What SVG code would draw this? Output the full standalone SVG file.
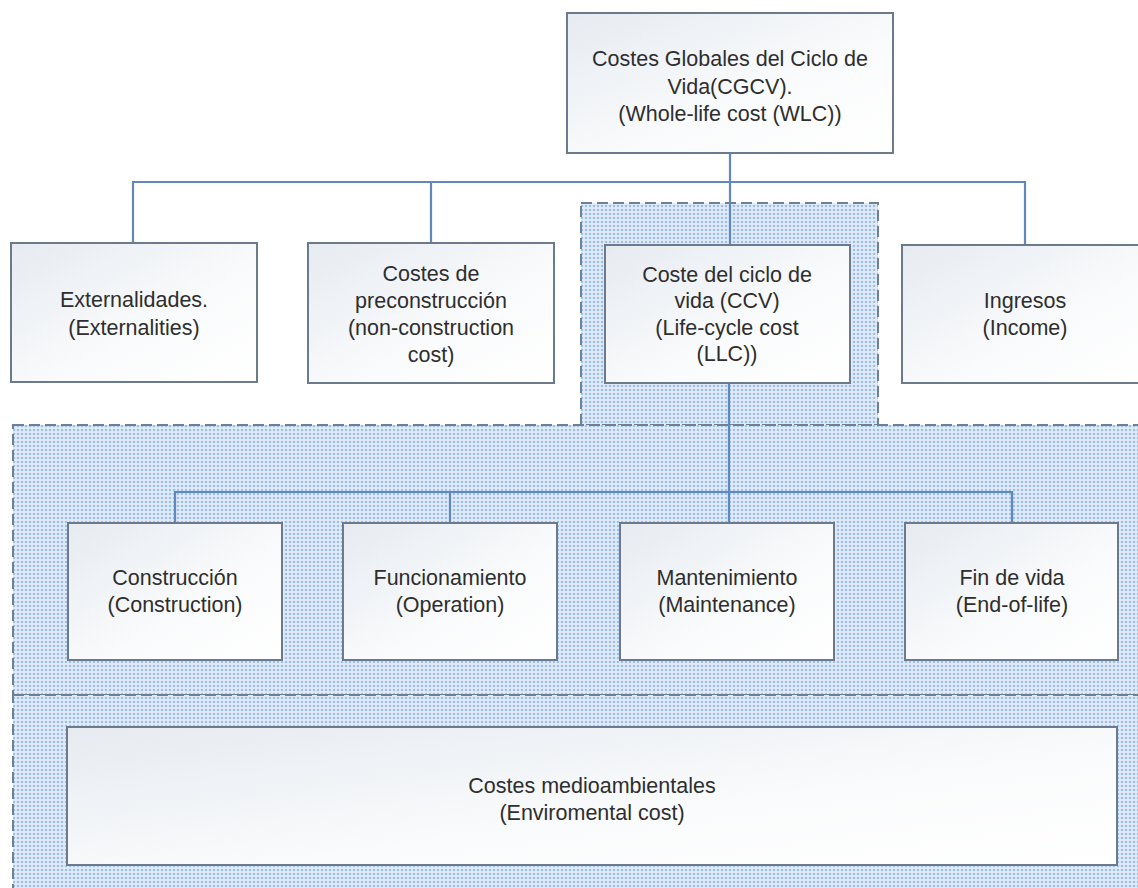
<svg xmlns="http://www.w3.org/2000/svg" width="1138" height="888" viewBox="0 0 1138 888">
<defs>
<pattern id="dots" width="4" height="4" patternUnits="userSpaceOnUse">
<rect width="4" height="4" fill="#e2ecf8"/>
<circle cx="2" cy="2" r="1.3" fill="#9fc0e4"/>
</pattern>
<linearGradient id="boxg" x1="0" y1="0" x2="1" y2="1">
<stop offset="0" stop-color="#e6ebf1"/>
<stop offset="0.6" stop-color="#fafbfc"/>
<stop offset="1" stop-color="#ffffff"/>
</linearGradient>
</defs>
<style>
.region{fill:url(#dots);stroke:#6e8194;stroke-width:2;stroke-dasharray:11 5;}
.box{fill:url(#boxg);stroke:#6b7a8c;stroke-width:2;}
.conn{fill:none;stroke:#6088bb;stroke-width:2.2;}
.t{font-family:"Liberation Sans",Arial,sans-serif;font-size:21.5px;fill:#2e2e2e;text-anchor:middle;}
</style>
<rect width="1138" height="888" fill="#ffffff"/>
<g id="regions">
<rect class="region" x="581" y="203" width="297" height="222"/>
<rect class="region" x="13" y="425" width="1140" height="270"/>
<rect class="region" x="13" y="695" width="1140" height="200"/>
</g>
<g id="connectors">
<path class="conn" d="M730 153 V245"/>
<path class="conn" d="M133 243 V182 H1025 V245"/>
<path class="conn" d="M431 182 V243"/>
<path class="conn" d="M729 383 V523"/>
<path class="conn" d="M175 523 V492 H1012 V523"/>
<path class="conn" d="M450 492 V523"/>
</g>
<g id="n-wlc">
<rect class="box" x="567" y="13" width="326" height="140"/>
<text class="t" x="730" y="66">Costes Globales del Ciclo de</text>
<text class="t" x="730" y="94">Vida(CGCV).</text>
<text class="t" x="730" y="121">(Whole-life cost (WLC))</text>
</g>
<g id="n-ext">
<rect class="box" x="11" y="243" width="246" height="139"/>
<text class="t" x="134" y="307">Externalidades.</text>
<text class="t" x="134" y="335">(Externalities)</text>
</g>
<g id="n-pre">
<rect class="box" x="308" y="243" width="246" height="140"/>
<text class="t" x="431" y="281">Costes de</text>
<text class="t" x="431" y="308">preconstrucción</text>
<text class="t" x="431" y="335">(non-construction</text>
<text class="t" x="431" y="362">cost)</text>
</g>
<g id="n-ccv">
<rect class="box" x="605" y="245" width="245" height="138"/>
<text class="t" x="727" y="282">Coste del ciclo de</text>
<text class="t" x="727" y="308">vida (CCV)</text>
<text class="t" x="727" y="335">(Life-cycle cost</text>
<text class="t" x="727" y="361">(LLC))</text>
</g>
<g id="n-inc">
<rect class="box" x="902" y="245" width="250" height="138"/>
<text class="t" x="1025" y="308">Ingresos</text>
<text class="t" x="1025" y="335">(Income)</text>
</g>
<g id="n-con">
<rect class="box" x="68" y="523" width="214" height="137"/>
<text class="t" x="175" y="585">Construcción</text>
<text class="t" x="175" y="612">(Construction)</text>
</g>
<g id="n-fun">
<rect class="box" x="343" y="523" width="214" height="137"/>
<text class="t" x="450" y="585">Funcionamiento</text>
<text class="t" x="450" y="612">(Operation)</text>
</g>
<g id="n-man">
<rect class="box" x="620" y="523" width="214" height="137"/>
<text class="t" x="727" y="585">Mantenimiento</text>
<text class="t" x="727" y="612">(Maintenance)</text>
</g>
<g id="n-fin">
<rect class="box" x="905" y="523" width="213" height="137"/>
<text class="t" x="1012" y="585">Fin de vida</text>
<text class="t" x="1012" y="612">(End-of-life)</text>
</g>
<g id="n-env">
<rect class="box" x="67" y="727" width="1050" height="138"/>
<text class="t" x="592" y="793">Costes medioambientales</text>
<text class="t" x="592" y="820">(Enviromental cost)</text>
</g>
</svg>
